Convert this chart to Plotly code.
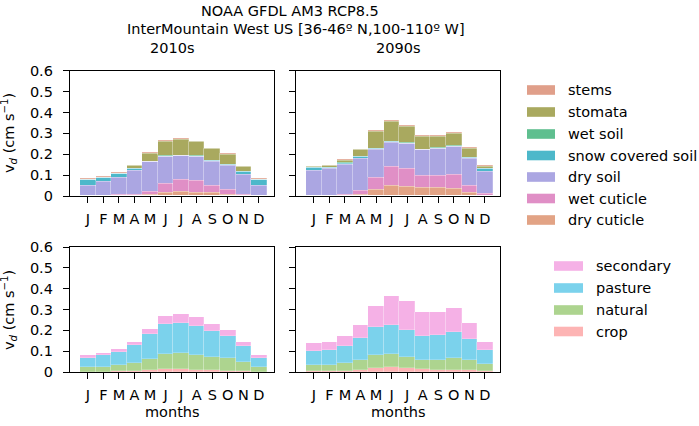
import plotly.graph_objects as go

months = ["J", "F", "M", "A", "M", "J", "J", "A", "S", "O", "N", "D"]
month_index = list(range(1, 13))

# ---- deposition pathways (layer thickness, cm s-1), bottom -> top ----
pathways = ["dry cuticle", "wet cuticle", "dry soil", "snow covered soil",
            "wet soil", "stomata", "stems"]
path_colors = {
    "dry cuticle": "#e2a385",
    "wet cuticle": "#e08fc6",
    "dry soil": "#aba6e2",
    "snow covered soil": "#4db8ca",
    "wet soil": "#5fbf8f",
    "stomata": "#a9a95f",
    "stems": "#e09f8a",
}

dry_cuticle_2010 = [0.001, 0.001, 0.002, 0.003, 0.005, 0.016, 0.021, 0.017, 0.014, 0.008, 0.003, 0.001]
wet_cuticle_2010 = [0.002, 0.002, 0.002, 0.003, 0.016, 0.044, 0.055, 0.054, 0.035, 0.022, 0.005, 0.002]
dry_soil_2010 = [0.048, 0.065, 0.082, 0.115, 0.142, 0.129, 0.116, 0.118, 0.116, 0.116, 0.092, 0.045]
snow_soil_2010 = [0.027, 0.020, 0.021, 0.009, 0.002, 0.001, 0.001, 0.001, 0.002, 0.005, 0.016, 0.029]
wet_soil_2010 = [0.001, 0.001, 0.001, 0.001, 0.001, 0.001, 0.001, 0.001, 0.001, 0.001, 0.001, 0.001]
stomata_2010 = [0.000, 0.001, 0.001, 0.013, 0.037, 0.071, 0.078, 0.068, 0.057, 0.048, 0.021, 0.001]
stems_2010 = [0.002, 0.002, 0.002, 0.002, 0.002, 0.003, 0.003, 0.003, 0.002, 0.002, 0.002, 0.002]

dry_cuticle_2090 = [0.001, 0.001, 0.002, 0.008, 0.032, 0.049, 0.044, 0.038, 0.038, 0.035, 0.017, 0.002]
wet_cuticle_2090 = [0.002, 0.002, 0.003, 0.016, 0.057, 0.089, 0.085, 0.060, 0.060, 0.065, 0.034, 0.008]
dry_soil_2090 = [0.119, 0.126, 0.147, 0.157, 0.135, 0.119, 0.122, 0.124, 0.129, 0.137, 0.127, 0.104]
snow_soil_2090 = [0.013, 0.006, 0.005, 0.005, 0.001, 0.001, 0.001, 0.001, 0.001, 0.001, 0.005, 0.016]
wet_soil_2090 = [0.001, 0.001, 0.001, 0.001, 0.001, 0.001, 0.001, 0.001, 0.001, 0.001, 0.001, 0.001]
stomata_2090 = [0.002, 0.008, 0.013, 0.035, 0.084, 0.098, 0.079, 0.060, 0.055, 0.061, 0.043, 0.010]
stems_2090 = [0.002, 0.002, 0.002, 0.002, 0.003, 0.003, 0.003, 0.003, 0.003, 0.003, 0.002, 0.002]

# ---- land types (layer thickness, cm s-1), bottom -> top ----
landtypes = ["crop", "natural", "pasture", "secondary"]
land_colors = {
    "crop": "#fdb4b4",
    "natural": "#add48f",
    "pasture": "#7bd2ec",
    "secondary": "#f5b1e6",
}

crop_2010 = [0.002, 0.002, 0.003, 0.005, 0.011, 0.016, 0.014, 0.010, 0.008, 0.006, 0.003, 0.002]
natural_2010 = [0.020, 0.024, 0.031, 0.040, 0.052, 0.069, 0.076, 0.070, 0.064, 0.060, 0.044, 0.022]
pasture_2010 = [0.045, 0.056, 0.064, 0.087, 0.120, 0.146, 0.146, 0.141, 0.124, 0.109, 0.078, 0.043]
secondary_2010 = [0.013, 0.011, 0.013, 0.014, 0.024, 0.039, 0.042, 0.041, 0.034, 0.029, 0.018, 0.013]

crop_2090 = [0.005, 0.005, 0.006, 0.011, 0.019, 0.026, 0.019, 0.013, 0.011, 0.011, 0.010, 0.005]
natural_2090 = [0.029, 0.030, 0.036, 0.045, 0.061, 0.059, 0.055, 0.045, 0.048, 0.058, 0.046, 0.032]
pasture_2090 = [0.066, 0.069, 0.083, 0.109, 0.138, 0.143, 0.128, 0.115, 0.118, 0.124, 0.103, 0.067]
secondary_2090 = [0.040, 0.042, 0.048, 0.061, 0.097, 0.136, 0.137, 0.116, 0.112, 0.112, 0.074, 0.042]

path_2010 = [dry_cuticle_2010, wet_cuticle_2010, dry_soil_2010, snow_soil_2010,
             wet_soil_2010, stomata_2010, stems_2010]
path_2090 = [dry_cuticle_2090, wet_cuticle_2090, dry_soil_2090, snow_soil_2090,
             wet_soil_2090, stomata_2090, stems_2090]
land_2010 = [crop_2010, natural_2010, pasture_2010, secondary_2010]
land_2090 = [crop_2090, natural_2090, pasture_2090, secondary_2090]

ytick_vals = [0, 0.1, 0.2, 0.3, 0.4, 0.5, 0.6]
ytick_text = ["0", "0.1", "0.2", "0.3", "0.4", "0.5", "0.6"]

FONT = "DejaVu Sans"
FS = 14.5

W, H = 699, 426
L, R, T, B = 70, 500, 70, 372   # plot area in pixels
PW, PH = R - L, B - T


def px(x):
    return (x - L) / PW


def py(y):
    return (B - y) / PH


fig = go.Figure()

panels = [
    ("x", "y", path_2010, pathways, path_colors),
    ("x2", "y2", path_2090, pathways, path_colors),
    ("x3", "y3", land_2010, landtypes, land_colors),
    ("x4", "y4", land_2090, landtypes, land_colors),
]
for xa, ya, layers, names, cmap in panels:
    for name, vals in zip(names, layers):
        fig.add_trace(go.Bar(
            x=month_index, y=vals, name=name, width=1.0,
            marker=dict(color=cmap[name],
                        line=dict(width=0.6, color="rgba(255,255,255,0.35)")),
            xaxis=xa, yaxis=ya, showlegend=False, hoverinfo="skip",
        ))

xdom_l = [px(70), px(274)]
xdom_r = [px(296), px(500)]
ydom_t = [py(196), py(70.7)]
ydom_b = [py(372), py(247)]

common_x = dict(range=[-0.145, 12.97], tickvals=month_index, ticktext=months,
                ticks="outside", ticklen=6, tickwidth=1.2, tickcolor="black",
                showline=True, linecolor="black", linewidth=1.3, mirror=True,
                showgrid=False, zeroline=False, ticklabelstandoff=3,
                tickfont=dict(family=FONT, size=FS, color="black"))
common_y = dict(range=[0, 0.6], tickvals=ytick_vals, ticktext=ytick_text,
                ticks="outside", ticklen=6, tickwidth=1.2, tickcolor="black",
                showline=True, linecolor="black", linewidth=1.3, mirror=True,
                showgrid=False, zeroline=False,
                tickfont=dict(family=FONT, size=FS, color="black"))

fig.update_layout(
    width=W, height=H,
    margin=dict(l=L, r=W - R, t=T, b=H - B, pad=0),
    barmode="stack", bargap=0,
    plot_bgcolor="white", paper_bgcolor="white",
    font=dict(family=FONT, size=FS, color="black"),
    xaxis=dict(domain=xdom_l, anchor="y", **common_x),
    yaxis=dict(domain=ydom_t, anchor="x", ticklabelstandoff=7, **common_y),
    xaxis2=dict(domain=xdom_r, anchor="y2", **common_x),
    yaxis2=dict(domain=ydom_t, anchor="x2", showticklabels=False,
                **{k: v for k, v in common_y.items() if k != "tickfont"}),
    xaxis3=dict(domain=xdom_l, anchor="y3", **common_x),
    yaxis3=dict(domain=ydom_b, anchor="x3", ticklabelstandoff=7, **common_y),
    xaxis4=dict(domain=xdom_r, anchor="y4", **common_x),
    yaxis4=dict(domain=ydom_b, anchor="x4", showticklabels=False,
                **{k: v for k, v in common_y.items() if k != "tickfont"}),
)

ann = []


def text(x, y, s, xanchor="center", angle=0, size=FS):
    ann.append(dict(x=px(x), y=py(y), xref="paper", yref="paper", text=s,
                    showarrow=False, xanchor=xanchor, yanchor="middle",
                    textangle=angle, borderpad=0,
                    font=dict(family=FONT, size=size, color="black")))


text(290, 11, "NOAA GFDL AM3 RCP8.5")
text(296, 29, "InterMountain West US [36-46º N,100-110º W]")
text(172, 48, "2010s")
text(398, 48, "2090s")
ylab = "v<sub><i>d</i></sub> (cm s<sup>−1</sup>)"
text(9, 133, ylab, angle=-90)
text(9, 310, ylab, angle=-90)
text(172, 412, "months")
text(398, 412, "months")

shapes = []
# legend for pathways (top-to-bottom order)
top_rows = [90, 112, 134, 155.5, 177, 198.5, 220]
for name, yc in zip(pathways[::-1], top_rows):
    shapes.append(dict(type="rect", xref="paper", yref="paper",
                       x0=px(527), x1=px(555), y0=py(yc + 4.8), y1=py(yc - 4.8),
                       fillcolor=path_colors[name], line=dict(width=0)))
    text(567, yc, name, xanchor="left")

bot_rows = [266, 288, 310, 331.5]
for name, yc in zip(landtypes[::-1], bot_rows):
    shapes.append(dict(type="rect", xref="paper", yref="paper",
                       x0=px(554), x1=px(583), y0=py(yc + 4.8), y1=py(yc - 4.8),
                       fillcolor=land_colors[name], line=dict(width=0)))
    text(595, yc, name, xanchor="left")

fig.update_layout(annotations=ann, shapes=shapes)

fig.write_html("out.html", config={"displayModeBar": False},
               post_script="document.body.style.margin='0';document.body.style.padding='0';")
